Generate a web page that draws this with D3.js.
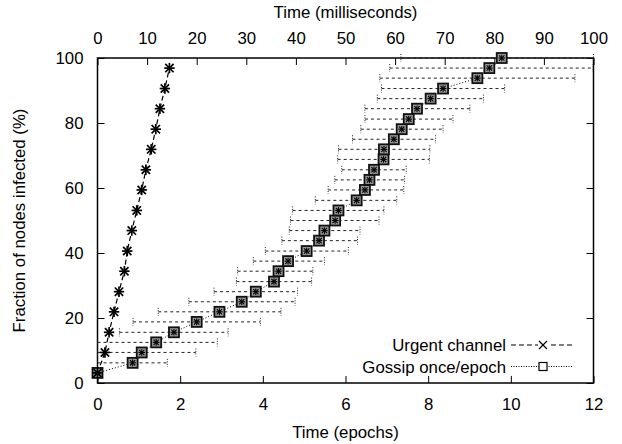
<!DOCTYPE html>
<html><head><meta charset="utf-8">
<script src="https://cdn.jsdelivr.net/npm/d3@7"></script>
<style>body{margin:0;background:#fff}svg{display:block}text{font-family:"Liberation Sans",Arial,Helvetica,sans-serif;fill:#000}</style>
</head><body>
<script>
// Urgent channel: epochs vs % infected
const urgentX = [0, 0.18, 0.28, 0.40, 0.52, 0.65, 0.72, 0.83, 0.95, 1.07, 1.17, 1.30, 1.41, 1.51, 1.63, 1.74];
const urgentY = [3.1, 9.4, 15.6, 21.9, 28.1, 34.4, 40.6, 46.9, 53.1, 59.4, 65.6, 71.9, 78.1, 84.4, 90.6, 96.9];
// Gossip once/epoch: mean, min, max (epochs) and % infected
const gossipY = [3.1, 6.2, 9.4, 12.5, 15.6, 18.8, 21.9, 25, 28.1, 31.2, 34.4, 37.5, 40.6, 43.8, 46.9, 50,
                 53.1, 56.2, 59.4, 62.5, 65.6, 68.8, 71.9, 75, 78.1, 81.2, 84.4, 87.5, 90.6, 93.8, 96.9, 100];
const gossipX = [0, 0.85, 1.07, 1.42, 1.85, 2.40, 2.95, 3.49, 3.83, 4.27, 4.38, 4.61, 5.06, 5.36, 5.49, 5.75,
                 5.83, 6.27, 6.47, 6.58, 6.69, 6.92, 6.93, 7.17, 7.36, 7.53, 7.73, 8.06, 8.36, 9.19, 9.48, 9.78];
const gossipLo = [0, 0, 0, 0, 0.53, 0.86, 1.47, 2.21, 2.82, 3.36, 3.39, 3.77, 4.06, 4.46, 4.64, 4.67,
                  4.72, 5.27, 5.58, 5.74, 5.91, 5.81, 5.83, 6.17, 6.37, 6.47, 6.47, 6.77, 6.87, 6.83, 7.07, 7.34];
const gossipHi = [0, 1.69, 2.38, 2.90, 3.16, 3.94, 4.44, 4.78, 4.84, 5.18, 5.21, 5.49, 6.07, 6.29, 6.35, 6.81,
                  6.93, 7.24, 7.41, 7.43, 7.47, 8.03, 8.04, 8.18, 8.36, 8.60, 9.01, 9.34, 9.85, 11.55, 11.99, 12.0];
const epochTicks = [0, 2, 4, 6, 8, 10, 12];
const msTicks = [0, 10, 20, 30, 40, 50, 60, 70, 80, 90, 100];
const pctTicks = [0, 20, 40, 60, 80, 100];
const seriesNames = ["Urgent channel", "Gossip once/epoch"];

const W = 622, H = 444;
const m = {l: 97.5, r: 28.5, t: 58, b: 61};
const svg = d3.select("body").append("svg").attr("width", W).attr("height", H);
const x = d3.scaleLinear().domain([0, 12]).range([m.l, W - m.r]);
const xms = d3.scaleLinear().domain([0, 100]).range([m.l, W - m.r]);
const y = d3.scaleLinear().domain([0, 100]).range([H - m.b, m.t]);
const fs = 16.8;

function styleAxis(g) {
  g.select(".domain").remove();
  g.selectAll("line").attr("stroke", "#000").attr("stroke-width", 1);
  g.selectAll("text").attr("font-size", fs).style("font-family", "'Liberation Sans',Arial,sans-serif");
}
svg.append("g").attr("transform", `translate(0,${H - m.b})`)
  .call(d3.axisBottom(x).tickValues(epochTicks).tickFormat(d3.format("d")).tickSize(-7).tickPadding(15))
  .call(styleAxis);
svg.append("g").attr("transform", `translate(0,${m.t})`)
  .call(d3.axisTop(xms).tickValues(msTicks).tickFormat(d3.format("d")).tickSize(-7).tickPadding(14))
  .call(styleAxis);
svg.append("g").attr("transform", `translate(${m.l},0)`)
  .call(d3.axisLeft(y).tickValues(pctTicks).tickFormat(d3.format("d")).tickSize(-7).tickPadding(14))
  .call(styleAxis);
svg.append("g").attr("transform", `translate(${W - m.r},0)`)
  .call(d3.axisRight(y).tickValues(pctTicks).tickFormat("").tickSize(-7))
  .call(styleAxis);
svg.append("rect").attr("x", m.l).attr("y", m.t).attr("width", W - m.l - m.r).attr("height", H - m.t - m.b)
  .attr("fill", "none").attr("stroke", "#000").attr("stroke-width", 1.5);

svg.append("text").attr("x", (m.l + W - m.r) / 2).attr("y", 18).attr("text-anchor", "middle").attr("font-size", fs).text("Time (milliseconds)");
svg.append("text").attr("x", (m.l + W - m.r) / 2).attr("y", 438).attr("text-anchor", "middle").attr("font-size", fs).text("Time (epochs)");
svg.append("text").attr("transform", `translate(25,${(m.t + H - m.b) / 2}) rotate(-90)`).attr("text-anchor", "middle").attr("font-size", fs).text("Fraction of nodes infected (%)");

const plot = svg.append("g");
const gIdx = d3.range(gossipX.length);
const eb = plot.append("g").attr("stroke", "#222").attr("stroke-width", 1).attr("fill", "none");
gIdx.filter(i => gossipHi[i] > gossipLo[i]).forEach(i => {
  const yy = y(gossipY[i]);
  eb.append("line").attr("x1", x(gossipLo[i])).attr("x2", x(gossipHi[i])).attr("y1", yy).attr("y2", yy).attr("stroke-dasharray", "3,3");
  [gossipLo[i], gossipHi[i]].forEach(v => {
    eb.append("line").attr("x1", x(v)).attr("x2", x(v)).attr("y1", yy - 4).attr("y2", yy + 4).attr("stroke-dasharray", "1,1.5");
  });
});
plot.append("path").datum(gIdx)
  .attr("d", d3.line().x(i => x(gossipX[i])).y(i => y(gossipY[i])))
  .attr("fill", "none").attr("stroke", "#000").attr("stroke-width", 1).attr("stroke-dasharray", "1,2");
const uIdx = d3.range(urgentX.length);
plot.append("path").datum(uIdx)
  .attr("d", d3.line().x(i => x(urgentX[i])).y(i => y(urgentY[i])))
  .attr("fill", "none").attr("stroke", "#000").attr("stroke-width", 1.2).attr("stroke-dasharray", "5,3");

function star(g, cx, cy, r, sw, col) {
  const s = g.append("g").attr("stroke", col || "#000").attr("stroke-width", sw);
  s.append("line").attr("x1", cx - r).attr("x2", cx + r).attr("y1", cy).attr("y2", cy);
  s.append("line").attr("x1", cx).attr("x2", cx).attr("y1", cy - r).attr("y2", cy + r);
  s.append("line").attr("x1", cx - r * 0.8).attr("x2", cx + r * 0.8).attr("y1", cy - r * 0.8).attr("y2", cy + r * 0.8);
  s.append("line").attr("x1", cx - r * 0.8).attr("x2", cx + r * 0.8).attr("y1", cy + r * 0.8).attr("y2", cy - r * 0.8);
}
gIdx.forEach(i => {
  const cx = x(gossipX[i]), cy = y(gossipY[i]);
  plot.append("rect").attr("x", cx - 5).attr("y", cy - 5).attr("width", 10).attr("height", 10)
    .attr("fill", "#999").attr("stroke", "#111").attr("stroke-width", 1.8);
  star(plot, cx, cy, 3.3, 1.1, "#000");
});
uIdx.forEach(i => star(plot, x(urgentX[i]), y(urgentY[i]), 5.2, 1.7));

const lg = svg.append("g");
const lx1 = 511, lx2 = 572, lmid = 543;
[0, 1].forEach(k => {
  const ly = k === 0 ? 345 : 366.5;
  lg.append("text").attr("x", 506).attr("y", ly + 6).attr("text-anchor", "end").attr("font-size", fs).text(seriesNames[k]);
  lg.append("line").attr("x1", lx1).attr("x2", lx2).attr("y1", ly).attr("y2", ly).attr("stroke", "#000")
    .attr("stroke-width", 1).attr("stroke-dasharray", k === 0 ? "5,3" : "1,1.5");
  if (k === 0) {
    lg.append("rect").attr("x", lmid - 5).attr("y", ly - 5).attr("width", 10).attr("height", 10).attr("fill", "#fff");
    lg.append("path").attr("d", `M${lmid - 4},${ly - 4}L${lmid + 4},${ly + 4}M${lmid - 4},${ly + 4}L${lmid + 4},${ly - 4}`).attr("stroke", "#000").attr("stroke-width", 1.2);
  } else {
    lg.append("rect").attr("x", lmid - 4).attr("y", ly - 4).attr("width", 8).attr("height", 8).attr("fill", "#fff").attr("stroke", "#000").attr("stroke-width", 1.2);
  }
});
</script>
</body></html>
